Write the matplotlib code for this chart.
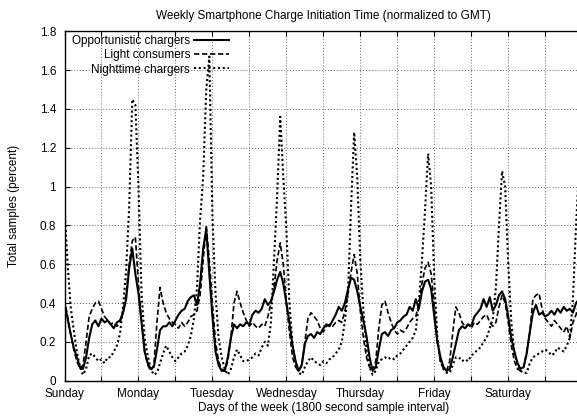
import numpy as np
import matplotlib
matplotlib.use('Agg')
import matplotlib.pyplot as plt

plt.rcParams['font.family'] = ['Liberation Sans', 'DejaVu Sans']
plt.rcParams['font.size'] = 8.5

DAYS = ['Sunday', 'Monday', 'Tuesday', 'Wednesday', 'Thursday', 'Friday', 'Saturday']

# hourly samples (percent), one row per day starting Sunday 00:00 GMT
opportunistic = [
    0.40, 0.32, 0.24, 0.17, 0.12, 0.07, 0.06, 0.12, 0.22, 0.29, 0.31, 0.28, 0.32, 0.30, 0.31, 0.29, 0.27, 0.30, 0.31, 0.35, 0.42, 0.58, 0.68, 0.55,
    0.45, 0.30, 0.15, 0.09, 0.06, 0.07, 0.16, 0.26, 0.28, 0.28, 0.30, 0.28, 0.31, 0.34, 0.36, 0.37, 0.41, 0.43, 0.44, 0.39, 0.50, 0.68, 0.78, 0.55,
    0.33, 0.15, 0.08, 0.05, 0.05, 0.12, 0.22, 0.29, 0.27, 0.29, 0.28, 0.30, 0.29, 0.34, 0.36, 0.35, 0.37, 0.42, 0.39, 0.41, 0.46, 0.52, 0.56, 0.50,
    0.40, 0.30, 0.18, 0.10, 0.05, 0.08, 0.19, 0.23, 0.24, 0.22, 0.25, 0.24, 0.27, 0.29, 0.28, 0.31, 0.34, 0.38, 0.36, 0.40, 0.47, 0.53, 0.52, 0.46,
    0.38, 0.31, 0.23, 0.12, 0.05, 0.07, 0.16, 0.24, 0.25, 0.23, 0.26, 0.27, 0.30, 0.31, 0.33, 0.34, 0.38, 0.36, 0.42, 0.37, 0.46, 0.51, 0.52, 0.47,
    0.33, 0.20, 0.12, 0.07, 0.05, 0.06, 0.12, 0.19, 0.26, 0.28, 0.27, 0.29, 0.28, 0.33, 0.35, 0.37, 0.42, 0.38, 0.43, 0.36, 0.39, 0.44, 0.46, 0.42,
    0.33, 0.22, 0.15, 0.09, 0.06, 0.07, 0.14, 0.25, 0.35, 0.39, 0.34, 0.35, 0.33, 0.34, 0.36, 0.34, 0.37, 0.35, 0.38, 0.36, 0.37, 0.35, 0.40, 0.42,
]

light = [
    0.42, 0.33, 0.24, 0.16, 0.10, 0.06, 0.08, 0.20, 0.33, 0.37, 0.40, 0.41, 0.37, 0.33, 0.31, 0.29, 0.30, 0.28, 0.30, 0.35, 0.45, 0.60, 0.72, 0.74,
    0.50, 0.30, 0.15, 0.08, 0.05, 0.08, 0.30, 0.48, 0.40, 0.35, 0.32, 0.30, 0.29, 0.27, 0.30, 0.28, 0.30, 0.33, 0.34, 0.36, 0.44, 0.62, 0.80, 0.62,
    0.40, 0.20, 0.10, 0.06, 0.05, 0.10, 0.22, 0.40, 0.46, 0.40, 0.35, 0.31, 0.28, 0.30, 0.28, 0.27, 0.29, 0.28, 0.33, 0.40, 0.48, 0.62, 0.71, 0.60,
    0.40, 0.25, 0.12, 0.07, 0.05, 0.08, 0.20, 0.32, 0.35, 0.33, 0.31, 0.27, 0.25, 0.28, 0.29, 0.28, 0.30, 0.31, 0.30, 0.36, 0.45, 0.56, 0.65, 0.55,
    0.36, 0.22, 0.12, 0.07, 0.05, 0.10, 0.27, 0.39, 0.41, 0.35, 0.30, 0.26, 0.24, 0.26, 0.25, 0.27, 0.30, 0.32, 0.33, 0.40, 0.50, 0.58, 0.61, 0.55,
    0.38, 0.20, 0.10, 0.06, 0.05, 0.10, 0.25, 0.38, 0.35, 0.30, 0.28, 0.29, 0.27, 0.30, 0.29, 0.31, 0.33, 0.34, 0.30, 0.28, 0.30, 0.38, 0.44, 0.40,
    0.30, 0.18, 0.10, 0.06, 0.05, 0.07, 0.15, 0.25, 0.42, 0.44, 0.45, 0.37, 0.32, 0.30, 0.28, 0.31, 0.29, 0.27, 0.25, 0.28, 0.22, 0.30, 0.34, 0.40,
]

nighttime = [
    0.90, 0.60, 0.38, 0.26, 0.15, 0.07, 0.03, 0.06, 0.13, 0.14, 0.12, 0.10, 0.11, 0.09, 0.12, 0.12, 0.15, 0.18, 0.24, 0.38, 0.57, 0.90, 1.45, 1.42,
    1.00, 0.45, 0.22, 0.13, 0.06, 0.03, 0.04, 0.09, 0.14, 0.18, 0.15, 0.12, 0.10, 0.12, 0.14, 0.15, 0.18, 0.23, 0.32, 0.48, 0.83, 1.05, 1.50, 1.67,
    0.85, 0.45, 0.22, 0.12, 0.06, 0.03, 0.06, 0.12, 0.16, 0.13, 0.10, 0.10, 0.11, 0.12, 0.14, 0.13, 0.17, 0.20, 0.18, 0.30, 0.62, 0.95, 1.36, 1.05,
    0.78, 0.40, 0.18, 0.09, 0.04, 0.03, 0.07, 0.10, 0.12, 0.10, 0.09, 0.08, 0.10, 0.09, 0.11, 0.12, 0.14, 0.16, 0.20, 0.31, 0.45, 0.90, 1.28, 1.05,
    0.62, 0.36, 0.16, 0.07, 0.03, 0.05, 0.10, 0.11, 0.12, 0.11, 0.12, 0.11, 0.13, 0.14, 0.16, 0.18, 0.20, 0.22, 0.26, 0.40, 0.62, 0.88, 1.17, 1.00,
    0.52, 0.22, 0.10, 0.06, 0.04, 0.04, 0.08, 0.12, 0.12, 0.10, 0.11, 0.10, 0.13, 0.14, 0.16, 0.17, 0.20, 0.22, 0.27, 0.32, 0.48, 0.80, 1.08, 1.00,
    0.60, 0.30, 0.14, 0.08, 0.05, 0.04, 0.04, 0.09, 0.12, 0.13, 0.14, 0.15, 0.16, 0.15, 0.13, 0.14, 0.17, 0.16, 0.15, 0.18, 0.22, 0.42, 0.80, 1.10,
]

hours = np.arange(len(opportunistic))

W, H = 577, 419
fig = plt.figure(figsize=(W / 100, H / 100), dpi=100)
# gnuplot canvas: the right border falls just outside the png
ax = fig.add_axes([64.5 / W, 38.4 / H, 517.7 / W, 349.2 / H])

ax.plot(hours, opportunistic, color='black', lw=1.5, label='Opportunistic chargers')
ax.plot(hours, light, color='black', lw=1.2, ls=(0, (3.2, 1.6)), label='Light consumers')
ax.plot(hours, nighttime, color='black', lw=1.5, ls=(0, (1.0, 1.3)), label='Nighttime chargers')

ax.set_xlim(0, 168)
ax.set_ylim(0, 1.8)

xt = np.arange(0, 168, 12)
ax.set_xticks(xt)
ax.set_xticklabels([DAYS[int(t) // 24] if t % 24 == 0 else '' for t in xt])
yt = np.arange(0, 1.81, 0.2)
ax.set_yticks(yt)
ax.set_yticklabels(['%g' % round(v, 1) for v in yt])

ax.tick_params(direction='in', length=3.5, width=0.8, top=True, right=True)
ax.tick_params(axis='x', pad=5)
ax.tick_params(axis='y', pad=6)
ax.grid(True, color='0.4', lw=0.7, ls=(0, (1, 2)))
for s in ax.spines.values():
    s.set_linewidth(1.0)

ax.set_title('Weekly Smartphone Charge Initiation Time (normalized to GMT)', pad=8.6, fontsize=8.5)
ax.set_xlabel('Days of the week (1800 second sample interval)')
ax.xaxis.set_label_coords(0.5, -0.062)
fig.text(14 / W, 0.508, 'Total samples (percent)', rotation=90, ha='center', va='center')

ax.legend(loc='upper left', bbox_to_anchor=(0.0145, 0.99), markerfirst=False, frameon=False,
          borderpad=0, borderaxespad=0, handlelength=3.0, handletextpad=0.3, labelspacing=0.2)

fig.savefig('out.png', dpi=100)
